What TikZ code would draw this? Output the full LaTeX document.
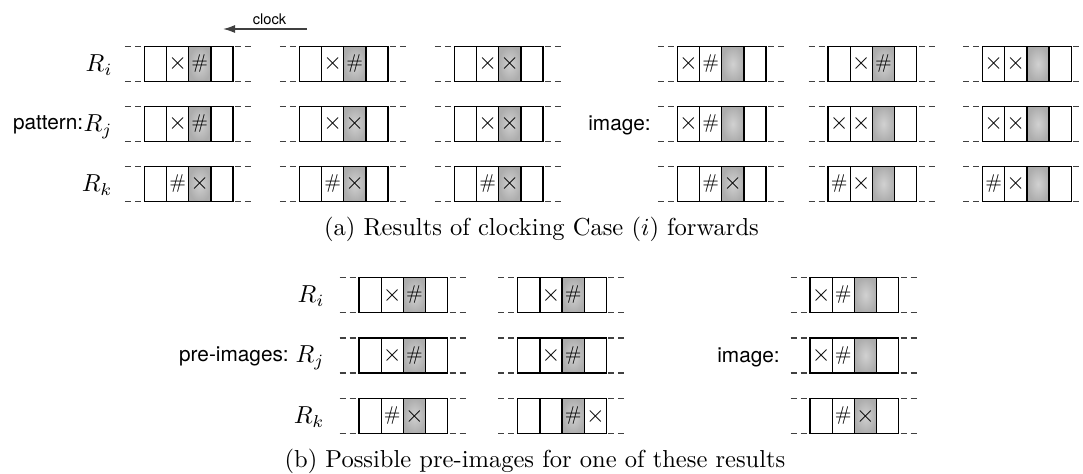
\documentclass[tikz,border=0pt]{standalone}
\usepackage{fontspec}
\setsansfont{TeX Gyre Heros}
\usetikzlibrary{arrows.meta}

% cell contents (10pt design, enlarged)
\newcommand\mkE{}
\newcommand\mkX{\scalebox{1.8}{$\times$}}
\newcommand\mkH{\scalebox{1.5}{$\#$}}

% one register: name, left x, top y, list of style/content for its four cells
\newcommand\regline[4]{%
  \draw[regdash] (#2-19.5,#3) -- (#2+109,#3);
  \draw[regdash] (#2-19.5,#3+35) -- (#2+109,#3+35);
  \foreach \st/\sy [count=\i from 0] in {#4}
    \node[cellbox,\st] (#1-\i) at ({#2+22.2*\i+11.1},{#3+17.5}) {\sy};
}

\tikzset{
  cellbox/.style={draw=black, line width=0.95pt, minimum width=16.65pt,
    minimum height=26.25pt, inner sep=0pt, outer sep=0pt,
    font=\fontsize{10}{12}\selectfont},
  plain/.style={fill=white},
  shade/.style={inner color=gray!36, outer color=gray!64},
  regdash/.style={draw=black!75, line width=0.8pt, dash pattern=on 4.5pt off 3pt},
  serifbig/.style={font=\fontsize{10}{12}\selectfont, scale=1.84, transform shape, inner sep=0pt},
  rlabel/.style={serifbig, anchor=base east},
  sflabel/.style={font=\sffamily\fontsize{15.6}{19}\selectfont, anchor=base east, inner sep=0pt},
  captext/.style={serifbig, anchor=base},
  clockarrow/.style={draw=black!75, line width=1.1pt, -{Latex[length=9pt,width=6pt]}},
}

\begin{document}
\begin{tikzpicture}[x=0.75pt,y=-0.75pt]
\useasboundingbox (0,0) rectangle (1083,474);

% direction of clocking
\node[font=\sffamily\fontsize{11}{13}\selectfont, inner sep=0pt] (clk) at (269.5,19) {clock};
\coordinate (clktail) at (307,29);
\coordinate (clkhead) at (223,29);
\draw[clockarrow] (clktail) -- (clkhead);

% ---------- (a) pattern ----------
\node[rlabel] (ari) at (113,71.5) {$R_i$};
\node[rlabel] (arj) at (113,131.5) {$R_j$};
\node[rlabel] (ark) at (113,191.5) {$R_k$};
\node[sflabel] (pat) at (83.5,129.5) {pattern:};

\regline{a1i}{144.3}{46.5}{plain/\mkE, plain/\mkX, shade/\mkH, plain/\mkE}
\regline{a1j}{144.3}{106.5}{plain/\mkE, plain/\mkX, shade/\mkH, plain/\mkE}
\regline{a1k}{144.3}{166.5}{plain/\mkE, plain/\mkH, shade/\mkX, plain/\mkE}

\regline{a2i}{299.3}{46.5}{plain/\mkE, plain/\mkX, shade/\mkH, plain/\mkE}
\regline{a2j}{299.3}{106.5}{plain/\mkE, plain/\mkX, shade/\mkX, plain/\mkE}
\regline{a2k}{299.3}{166.5}{plain/\mkE, plain/\mkH, shade/\mkX, plain/\mkE}

\regline{a3i}{454.3}{46.5}{plain/\mkE, plain/\mkX, shade/\mkX, plain/\mkE}
\regline{a3j}{454.3}{106.5}{plain/\mkE, plain/\mkX, shade/\mkX, plain/\mkE}
\regline{a3k}{454.3}{166.5}{plain/\mkE, plain/\mkH, shade/\mkX, plain/\mkE}

% ---------- (a) image ----------
\node[sflabel] (imga) at (651,131) {image:};

\regline{a4i}{677.3}{46.5}{plain/\mkX, plain/\mkH, shade/\mkE, plain/\mkE}
\regline{a4j}{677.3}{106.5}{plain/\mkX, plain/\mkH, shade/\mkE, plain/\mkE}
\regline{a4k}{677.3}{166.5}{plain/\mkE, plain/\mkH, shade/\mkX, plain/\mkE}

\regline{a5i}{828}{46.5}{plain/\mkE, plain/\mkX, shade/\mkH, plain/\mkE}
\regline{a5j}{828}{106.5}{plain/\mkX, plain/\mkX, shade/\mkE, plain/\mkE}
\regline{a5k}{828}{166.5}{plain/\mkH, plain/\mkX, shade/\mkE, plain/\mkE}

\regline{a6i}{982.5}{46.5}{plain/\mkX, plain/\mkX, shade/\mkE, plain/\mkE}
\regline{a6j}{982.5}{106.5}{plain/\mkX, plain/\mkX, shade/\mkE, plain/\mkE}
\regline{a6k}{982.5}{166.5}{plain/\mkH, plain/\mkX, shade/\mkE, plain/\mkE}

\node[captext] (capa) at (541.5,236) {(a) Results of clocking Case ($i$) forwards};

% ---------- (b) pre-images ----------
\node[rlabel] (bri) at (325,302.5) {$R_i$};
\node[rlabel] (brj) at (325,363) {$R_j$};
\node[rlabel] (brk) at (325,423.5) {$R_k$};
\node[sflabel] (pre) at (289,361.5) {pre-images:};

\regline{b1i}{359}{277.5}{plain/\mkE, plain/\mkX, shade/\mkH, plain/\mkE}
\regline{b1j}{359}{338}{plain/\mkE, plain/\mkX, shade/\mkH, plain/\mkE}
\regline{b1k}{359}{398.5}{plain/\mkE, plain/\mkH, shade/\mkX, plain/\mkE}

\regline{b2i}{517.7}{277.5}{plain/\mkE, plain/\mkX, shade/\mkH, plain/\mkE}
\regline{b2j}{517.7}{338}{plain/\mkE, plain/\mkX, shade/\mkH, plain/\mkE}
\regline{b2k}{517.7}{398.5}{plain/\mkE, plain/\mkE, shade/\mkH, plain/\mkX}

% ---------- (b) image ----------
\node[sflabel] (imgb) at (780,362.5) {image:};

\regline{b3i}{810}{277.5}{plain/\mkX, plain/\mkH, shade/\mkE, plain/\mkE}
\regline{b3j}{810}{338}{plain/\mkX, plain/\mkH, shade/\mkE, plain/\mkE}
\regline{b3k}{810}{398.5}{plain/\mkE, plain/\mkH, shade/\mkX, plain/\mkE}

\node[captext] (capb) at (535,467) {(b) Possible pre-images for one of these results};
\end{tikzpicture}
\end{document}
